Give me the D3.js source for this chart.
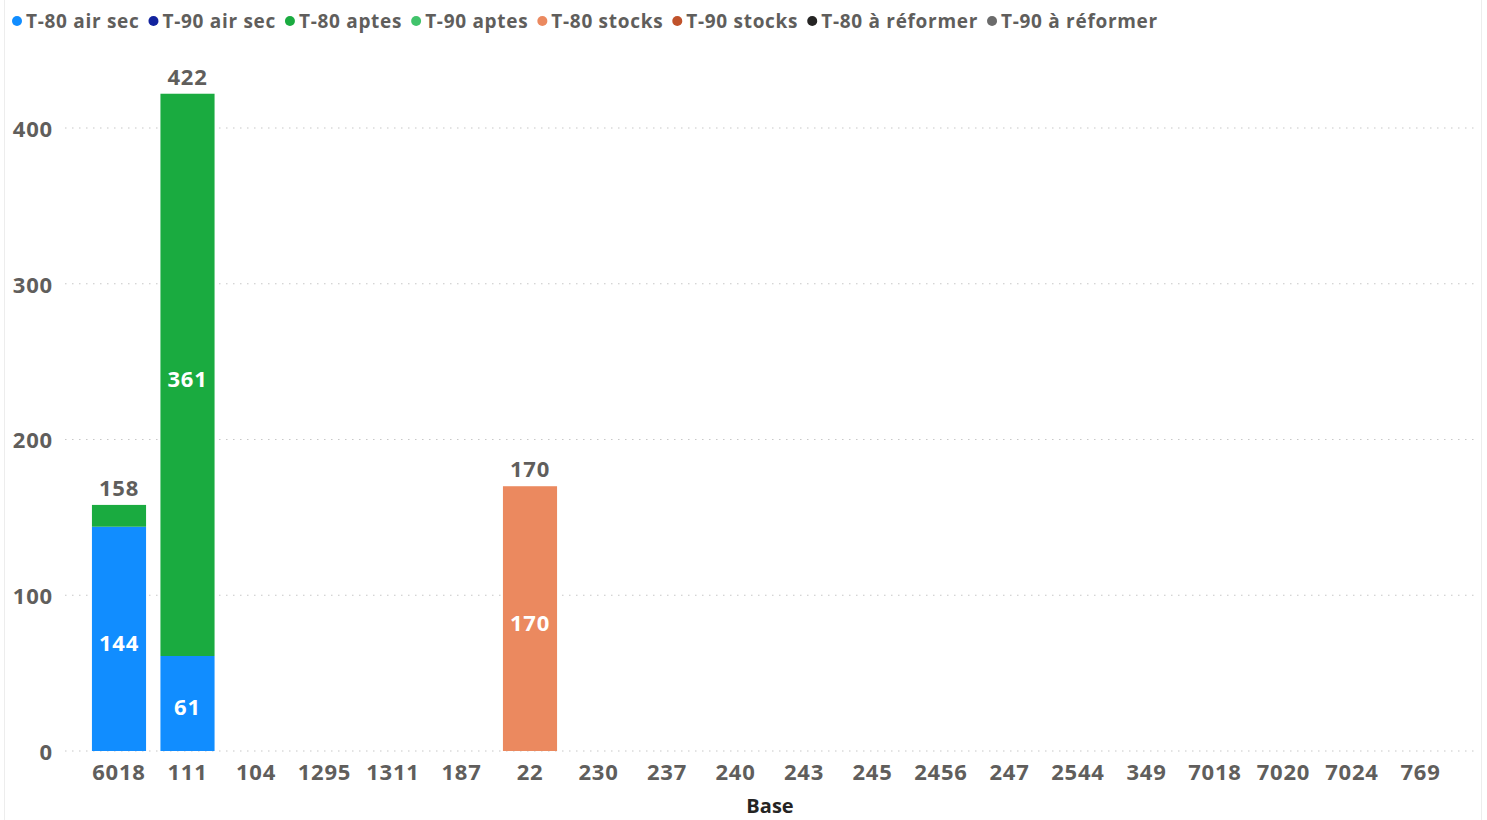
<!DOCTYPE html>
<html><head><meta charset="utf-8">
<script src="https://cdn.jsdelivr.net/npm/d3@7"></script>
<style>
html,body{margin:0;padding:0;background:#fff;}
svg{display:block;font-family:"Open Sans",sans-serif;}
</style></head>
<body>
<svg id="c" width="1487" height="820"></svg>
<script>
const categories = ["6018","111","104","1295","1311","187","22","230","237","240","243","245","2456","247","2544","349","7018","7020","7024","769"];
const seriesNames = ["T-80 air sec","T-90 air sec","T-80 aptes","T-90 aptes","T-80 stocks","T-90 stocks","T-80 à réformer","T-90 à réformer"];
const seriesColors = ["#118DFF","#12239E","#1AAB40","#41C36B","#EB895F","#C0522B","#252423","#6B6B6B"];
const t80AirSec    = [144,61,0,0,0,0,0,0,0,0,0,0,0,0,0,0,0,0,0,0];
const t90AirSec    = [0,0,0,0,0,0,0,0,0,0,0,0,0,0,0,0,0,0,0,0];
const t80Aptes     = [14,361,0,0,0,0,0,0,0,0,0,0,0,0,0,0,0,0,0,0];
const t90Aptes     = [0,0,0,0,0,0,0,0,0,0,0,0,0,0,0,0,0,0,0,0];
const t80Stocks    = [0,0,0,0,0,0,170,0,0,0,0,0,0,0,0,0,0,0,0,0];
const t90Stocks    = [0,0,0,0,0,0,0,0,0,0,0,0,0,0,0,0,0,0,0,0];
const t80Reformer  = [0,0,0,0,0,0,0,0,0,0,0,0,0,0,0,0,0,0,0,0];
const t90Reformer  = [0,0,0,0,0,0,0,0,0,0,0,0,0,0,0,0,0,0,0,0];
const yTicks = [0,100,200,300,400];
const xTitle = "Base";

const seriesValues = [t80AirSec,t90AirSec,t80Aptes,t90Aptes,t80Stocks,t90Stocks,t80Reformer,t90Reformer];
const rows = categories.map((c,i)=>{const r={cat:c}; seriesNames.forEach((s,j)=>r[s]=seriesValues[j][i]); return r;});
const stack = d3.stack().keys(seriesNames)(rows);
const totals = rows.map(r=>d3.sum(seriesNames,s=>r[s]));

const svg = d3.select("#c");
// visual border
svg.append("rect").attr("x",4.5).attr("y",-2).attr("width",1477).attr("height",830)
  .attr("fill","none").attr("stroke","#EDEDED").attr("stroke-width",1);

const x = d3.scaleBand().domain(categories).range([84.75,1454.75]).paddingInner(0.21).paddingOuter(0.105);
const y = d3.scaleLinear().domain([0,400]).range([751,128]);

// grid
const g = svg.append("g");
g.selectAll("line.grid").data(yTicks).join("line")
  .attr("x1",65).attr("x2",1475).attr("y1",d=>y(d)).attr("y2",d=>y(d))
  .attr("stroke","#C8C8C8").attr("stroke-width",1.2).attr("stroke-dasharray","1.5,5.5");

const tickFont = {size:"22px", weight:700, ls:"0.8px"};

// y axis
const yAxis = svg.append("g").attr("transform","translate(53,0)")
  .call(d3.axisLeft(y).tickValues(yTicks).tickSize(0).tickPadding(0));
yAxis.select(".domain").remove();
yAxis.selectAll("text").attr("fill","#605E5C").attr("font-size",tickFont.size).attr("font-weight",tickFont.weight)
  .attr("letter-spacing",tickFont.ls).attr("font-family","'Open Sans',sans-serif").attr("dy","0.38em");

// x axis
const xAxis = svg.append("g").attr("transform","translate(0,772)")
  .call(d3.axisBottom(x).tickSize(0).tickPadding(0));
xAxis.select(".domain").remove();
xAxis.selectAll("text").attr("fill","#605E5C").attr("font-size",tickFont.size).attr("font-weight",tickFont.weight)
  .attr("font-family","'Open Sans',sans-serif").attr("dy","0.36em").attr("letter-spacing",tickFont.ls);

svg.append("text").attr("x",770).attr("y",806).attr("dy","0.36em").attr("text-anchor","middle")
  .attr("fill","#252423").attr("font-size","20px").attr("font-weight",700).text(xTitle);

// bars
const layers = svg.append("g").selectAll("g").data(stack).join("g")
  .attr("fill",(d,i)=>seriesColors[i]);
layers.selectAll("rect").data(d=>d.map((v,i)=>({v,i}))).join("rect")
  .filter(d=>d.v[1]-d.v[0]>0)
  .attr("x",d=>x(categories[d.i])).attr("width",x.bandwidth())
  .attr("y",d=>y(d.v[1])).attr("height",d=>y(d.v[0])-y(d.v[1]));

// segment labels
stack.forEach((layer)=>{
  layer.forEach((v,i)=>{
    const val=v[1]-v[0];
    if(val>0 && (y(v[0])-y(v[1]))>30){
      svg.append("text").attr("x",x(categories[i])+x.bandwidth()/2).attr("y",(y(v[0])+y(v[1]))/2+4)
        .attr("dy","0.36em").attr("text-anchor","middle").attr("fill","#fff")
        .attr("font-size","22px").attr("font-weight",700).attr("letter-spacing","0.8px").text(val);
    }
  });
});
// totals
totals.forEach((t,i)=>{
  if(t>0){
    svg.append("text").attr("x",x(categories[i])+x.bandwidth()/2).attr("y",y(t)-17)
      .attr("dy","0.36em").attr("text-anchor","middle").attr("fill","#605E5C")
      .attr("font-size","22px").attr("font-weight",700).attr("letter-spacing","0.8px").text(t);
  }
});

// legend
const leg = svg.append("g").attr("transform","translate(12,21)");
let lx=0;
seriesNames.forEach((s,i)=>{
  const it = leg.append("g").attr("transform",`translate(${lx},0)`);
  it.append("circle").attr("cx",5).attr("cy",0).attr("r",5).attr("fill",seriesColors[i]);
  const t = it.append("text").attr("x",14).attr("dy","0.36em").attr("fill","#605E5C")
    .attr("font-size","19px").attr("font-weight",700).attr("letter-spacing","0.7px").text(s);
  lx += 14 + t.node().getComputedTextLength() + 9;
});
</script>
</body></html>
